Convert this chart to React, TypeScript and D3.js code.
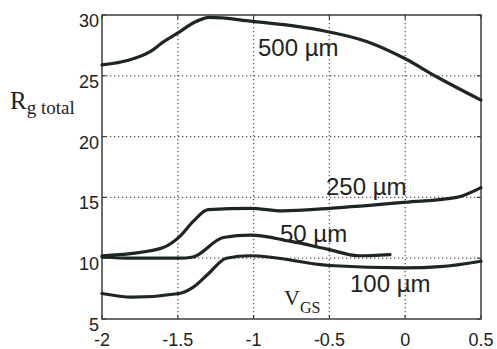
import React from "react";
import * as d3 from "d3";

const xTicks = [-2, -1.5, -1, -0.5, 0, 0.5];
const xTickLabels = ["-2", "-1.5", "-1", "-0.5", "0", "0.5"];
const yTicks = [5, 10, 15, 20, 25, 30];
const yTickLabels = ["5", "10", "15", "20", "25", "30"];

const vgs500 = [-2, -1.82, -1.68, -1.6, -1.49, -1.39, -1.29, -1.02, -0.58, -0.25, 0, 0.21, 0.5];
const rg500 = [25.9, 26.3, 27.0, 27.75, 28.6, 29.4, 29.8, 29.5, 28.8, 27.8, 26.4, 24.9, 23.0];

const vgs250 = [-2, -1.8, -1.6, -1.49, -1.4, -1.3, -1.02, -0.81, -0.5, 0, 0.34, 0.5];
const rg250 = [10.2, 10.4, 10.85, 11.75, 13.0, 14.0, 14.1, 13.9, 14.1, 14.6, 15.0, 15.8];

const vgs50 = [-2, -1.8, -1.49, -1.4, -1.2, -1.02, -0.76, -0.5, -0.31, -0.1];
const rg50 = [10.1, 10.0, 10.0, 10.1, 11.7, 11.9, 11.4, 10.7, 10.2, 10.3];

const vgs100 = [-2, -1.8, -1.49, -1.4, -1.3, -1.18, -1.02, -0.5, 0, 0.23, 0.5];
const rg100 = [7.1, 6.8, 7.1, 7.6, 8.7, 10.0, 10.2, 9.4, 9.2, 9.3, 9.75];

const seriesNames = ["500 µm", "250 µm", "50 µm", "100 µm"];

const W = 497;
const H = 349;
const L = 102;
const R = 481;
const T = 15;
const B = 319;

export default function App() {
  const x = d3.scaleLinear().domain([-2, 0.5]).range([L, R]);
  const y = d3.scaleLinear().domain([5, 30]).range([B, T]);
  const line = d3
    .line<[number, number]>()
    .x((d) => x(d[0]))
    .y((d) => y(d[1]))
    .curve(d3.curveMonotoneX);

  const series = [
    { xs: vgs500, ys: rg500 },
    { xs: vgs250, ys: rg250 },
    { xs: vgs50, ys: rg50 },
    { xs: vgs100, ys: rg100 },
  ];

  const labelPos = [
    { x: 258, y: 56 },
    { x: 326, y: 195 },
    { x: 280, y: 242 },
    { x: 350, y: 292 },
  ];

  const axisColor = "#3a3f3c";
  const textColor = "#222";
  const sans = "Liberation Sans, Arial, sans-serif";
  const serif = "Liberation Serif, Times New Roman, serif";

  return (
    <div style={{ position: "absolute", left: 0, top: 0 }}>
      <svg width={W} height={H} style={{ display: "block", background: "#fff" }}>
        {xTicks.slice(1, -1).map((t) => (
          <line
            key={"gx" + t}
            x1={x(t)}
            x2={x(t)}
            y1={T}
            y2={B}
            stroke="#555"
            strokeWidth={1.3}
            strokeDasharray="1.3,2.7"
          />
        ))}
        {yTicks.slice(1, -1).map((t) => (
          <line
            key={"gy" + t}
            x1={L}
            x2={R}
            y1={y(t)}
            y2={y(t)}
            stroke="#555"
            strokeWidth={1.3}
            strokeDasharray="1.3,2.7"
          />
        ))}
        <rect x={L} y={T} width={R - L} height={B - T} fill="none" stroke={axisColor} strokeWidth={1.5} />
        {xTicks.map((t) => (
          <g key={"tx" + t}>
            <line x1={x(t)} x2={x(t)} y1={B} y2={B - 4} stroke={axisColor} strokeWidth={1.2} />
            <line x1={x(t)} x2={x(t)} y1={T} y2={T + 4} stroke={axisColor} strokeWidth={1.2} />
          </g>
        ))}
        {yTicks.map((t) => (
          <g key={"ty" + t}>
            <line x1={L} x2={L + 4} y1={y(t)} y2={y(t)} stroke={axisColor} strokeWidth={1.2} />
            <line x1={R} x2={R - 4} y1={y(t)} y2={y(t)} stroke={axisColor} strokeWidth={1.2} />
          </g>
        ))}
        {xTicks.map((t, i) => (
          <text
            key={"lx" + t}
            x={x(t)}
            y={346}
            textAnchor="middle"
            fontFamily={sans}
            fontSize={18}
            fill={textColor}
          >
            {xTickLabels[i]}
          </text>
        ))}
        {yTicks.map((t, i) => (
          <text
            key={"ly" + t}
            x={99}
            y={y(t) + 12}
            textAnchor="end"
            fontFamily={sans}
            fontSize={18}
            fill={textColor}
          >
            {yTickLabels[i]}
          </text>
        ))}
        {series.map((s, i) => (
          <path
            key={"s" + i}
            d={line(s.xs.map((v, j) => [v, s.ys[j]] as [number, number])) || ""}
            fill="none"
            stroke="#1d2621"
            strokeWidth={3.2}
            strokeLinejoin="round"
            strokeLinecap="round"
          />
        ))}
        {seriesNames.map((n, i) => (
          <text
            key={"n" + i}
            x={labelPos[i].x}
            y={labelPos[i].y}
            fontFamily={sans}
            fontSize={24}
            fill={textColor}
          >
            {n}
          </text>
        ))}
        <text x={10} y={109} fontFamily={serif} fontSize={25} fill={textColor}>
          R
          <tspan fontSize={19} dy={5}>
            g total
          </tspan>
        </text>
        <text x={284} y={305} fontFamily={serif} fontSize={22} fill={textColor}>
          V
          <tspan fontSize={16} dy={8}>
            GS
          </tspan>
        </text>
      </svg>
    </div>
  );
}
